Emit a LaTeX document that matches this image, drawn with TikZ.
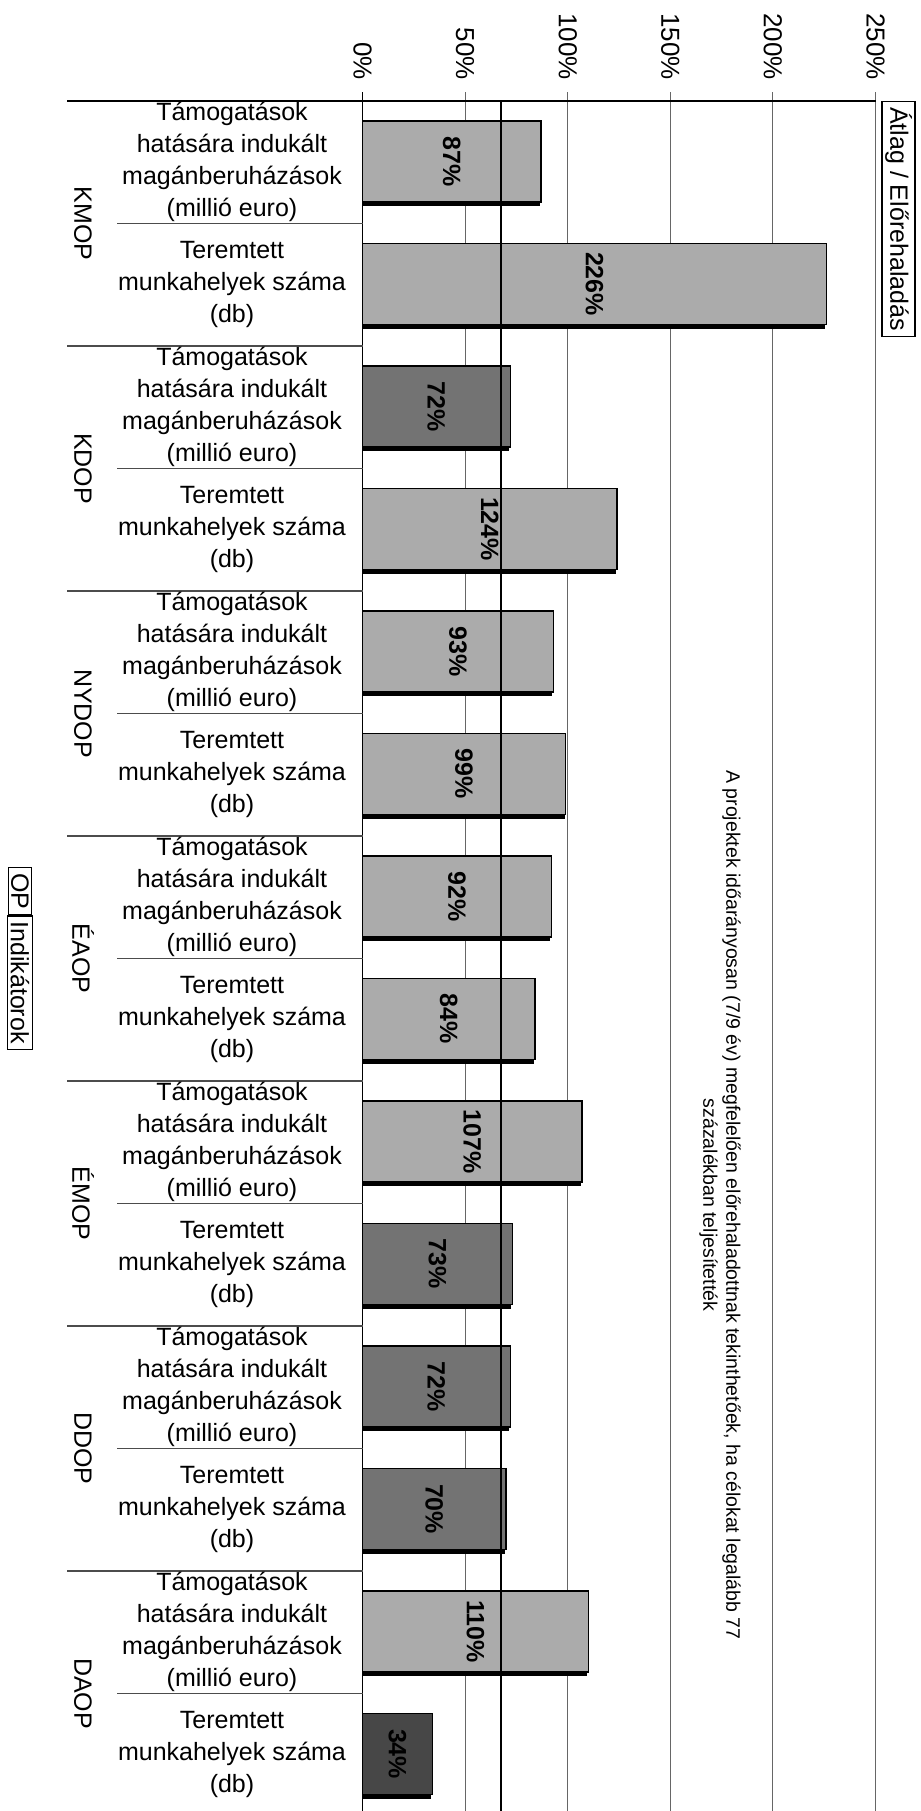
\documentclass[tikz,border=0pt]{standalone}
\usepackage{fontspec}
\setmainfont{Liberation Sans}
\usetikzlibrary{shadows}

\begin{document}
\begin{tikzpicture}[x=0.5pt,y=-0.5pt,
			light bar/.style={draw,line width=0.7pt,fill=black!33,drop shadow={shadow xshift=-0.5pt,shadow yshift=-2pt,fill=black,opacity=1}},
			dark bar/.style={light bar,fill=black!55},
			low bar/.style={light bar,fill=black!72},
			grid line/.style={black!60,line width=0.5pt},
			sep line/.style={black!70,line width=0.6pt},
			axis node/.style={rotate=-90,anchor=east,inner sep=0pt,font=\fontsize{13}{15}\selectfont},
			value node/.style={rotate=-90,inner sep=0pt,font=\fontsize{12.5}{15}\selectfont\bfseries},
			ind node/.style={align=center,inner sep=0pt,font=\fontsize{12.5}{16}\selectfont},
			op node/.style={rotate=-90,inner sep=0pt,font=\fontsize{12.5}{15}\selectfont},
			box node/.style={draw,rotate=-90,line width=0.6pt,inner xsep=2.75pt,inner ysep=1.5pt,font=\fontsize{12.5}{15}\selectfont},
			note node/.style={rotate=-90,align=center,inner sep=0pt,font=\fontsize{9.75}{11.5}\selectfont}
			]

			\def \xo {362.5};
			\def \pct {2.052};

			\useasboundingbox (0,0) rectangle (921,1811);

			\draw[grid line] ({\xo+50*\pct},92) -- ({\xo+50*\pct},1811);
			\draw[grid line] ({\xo+100*\pct},92) -- ({\xo+100*\pct},1811);
			\draw[grid line] ({\xo+150*\pct},92) -- ({\xo+150*\pct},1811);
			\draw[grid line] ({\xo+200*\pct},92) -- ({\xo+200*\pct},1811);
			\draw[grid line] ({\xo+250*\pct},92) -- ({\xo+250*\pct},1811);

			\node[axis node] (t0) at (\xo,80) {0\%};
			\node[axis node] (t50) at ({\xo+50*\pct},80) {50\%};
			\node[axis node] (t100) at ({\xo+100*\pct},80) {100\%};
			\node[axis node] (t150) at ({\xo+150*\pct},80) {150\%};
			\node[axis node] (t200) at ({\xo+200*\pct},80) {200\%};
			\node[axis node] (t250) at ({\xo+250*\pct},80) {250\%};

			% KMOP
			\draw[light bar] (\xo,121) rectangle ({\xo+87*\pct},202);
			\node[value node] (kmop-a-v) at ({\xo+87*\pct/2},161.5) {87\%};
			\draw[light bar] (\xo,243.5) rectangle ({\xo+226*\pct},324.5);
			\node[value node] (kmop-b-v) at ({\xo+226*\pct/2},284) {226\%};
			% KDOP
			\draw[dark bar] (\xo,366) rectangle ({\xo+72*\pct},447);
			\node[value node] (kdop-a-v) at ({\xo+72*\pct/2},406.5) {72\%};
			\draw[light bar] (\xo,488.5) rectangle ({\xo+124*\pct},569.5);
			\node[value node] (kdop-b-v) at ({\xo+124*\pct/2},529) {124\%};
			% NYDOP
			\draw[light bar] (\xo,611) rectangle ({\xo+93*\pct},692);
			\node[value node] (nydop-a-v) at ({\xo+93*\pct/2},651.5) {93\%};
			\draw[light bar] (\xo,733.5) rectangle ({\xo+99*\pct},814.5);
			\node[value node] (nydop-b-v) at ({\xo+99*\pct/2},774) {99\%};
			% ÉAOP
			\draw[light bar] (\xo,856) rectangle ({\xo+92*\pct},937);
			\node[value node] (eaop-a-v) at ({\xo+92*\pct/2},896.5) {92\%};
			\draw[light bar] (\xo,978.5) rectangle ({\xo+84*\pct},1059.5);
			\node[value node] (eaop-b-v) at ({\xo+84*\pct/2},1019) {84\%};
			% ÉMOP
			\draw[light bar] (\xo,1101) rectangle ({\xo+107*\pct},1182);
			\node[value node] (emop-a-v) at ({\xo+107*\pct/2},1141.5) {107\%};
			\draw[dark bar] (\xo,1223.5) rectangle ({\xo+73*\pct},1304.5);
			\node[value node] (emop-b-v) at ({\xo+73*\pct/2},1264) {73\%};
			% DDOP
			\draw[dark bar] (\xo,1346) rectangle ({\xo+72*\pct},1427);
			\node[value node] (ddop-a-v) at ({\xo+72*\pct/2},1386.5) {72\%};
			\draw[dark bar] (\xo,1468.5) rectangle ({\xo+70*\pct},1549.5);
			\node[value node] (ddop-b-v) at ({\xo+70*\pct/2},1509) {70\%};
			% DAOP
			\draw[light bar] (\xo,1591) rectangle ({\xo+110*\pct},1672);
			\node[value node] (daop-a-v) at ({\xo+110*\pct/2},1631.5) {110\%};
			\draw[low bar] (\xo,1713.5) rectangle ({\xo+34*\pct},1794.5);
			\node[value node] (daop-b-v) at ({\xo+34*\pct/2},1754) {34\%};

			\draw[line width=1.3pt] ({\xo+67.5*\pct},101) -- ({\xo+67.5*\pct},1811);
			\draw[line width=0.75pt] (\xo,92) -- (\xo,1811);
			\draw[line width=0.75pt] (67,101) -- ({\xo+250*\pct},101);

			\draw[sep line] (67,346) -- (\xo,346);
			\draw[sep line] (67,591) -- (\xo,591);
			\draw[sep line] (67,836) -- (\xo,836);
			\draw[sep line] (67,1081) -- (\xo,1081);
			\draw[sep line] (67,1326) -- (\xo,1326);
			\draw[sep line] (67,1571) -- (\xo,1571);

			\draw[sep line] (117,223.5) -- (\xo,223.5);
			\draw[sep line] (117,468.5) -- (\xo,468.5);
			\draw[sep line] (117,713.5) -- (\xo,713.5);
			\draw[sep line] (117,958.5) -- (\xo,958.5);
			\draw[sep line] (117,1203.5) -- (\xo,1203.5);
			\draw[sep line] (117,1448.5) -- (\xo,1448.5);
			\draw[sep line] (117,1693.5) -- (\xo,1693.5);

			\node[op node] (kmop) at (83,223.5) {KMOP};
			\node[op node] (kdop) at (83,468.5) {KDOP};
			\node[op node] (nydop) at (83,713.5) {NYDOP};
			\node[op node] (eaop) at (83,958.5) {ÉAOP};
			\node[op node] (emop) at (83,1203.5) {ÉMOP};
			\node[op node] (ddop) at (83,1448.5) {DDOP};
			\node[op node] (daop) at (83,1693.5) {DAOP};

			\node[ind node] (kmop-a) at (232,162.25) {Támogatások\\hatására indukált\\magánberuházások\\(millió euro)};
			\node[ind node] (kmop-b) at (232,284.75) {Teremtett\\munkahelyek száma\\(db)};
			\node[ind node] (kdop-a) at (232,407.25) {Támogatások\\hatására indukált\\magánberuházások\\(millió euro)};
			\node[ind node] (kdop-b) at (232,529.75) {Teremtett\\munkahelyek száma\\(db)};
			\node[ind node] (nydop-a) at (232,652.25) {Támogatások\\hatására indukált\\magánberuházások\\(millió euro)};
			\node[ind node] (nydop-b) at (232,774.75) {Teremtett\\munkahelyek száma\\(db)};
			\node[ind node] (eaop-a) at (232,897.25) {Támogatások\\hatására indukált\\magánberuházások\\(millió euro)};
			\node[ind node] (eaop-b) at (232,1019.75) {Teremtett\\munkahelyek száma\\(db)};
			\node[ind node] (emop-a) at (232,1142.25) {Támogatások\\hatására indukált\\magánberuházások\\(millió euro)};
			\node[ind node] (emop-b) at (232,1264.75) {Teremtett\\munkahelyek száma\\(db)};
			\node[ind node] (ddop-a) at (232,1387.25) {Támogatások\\hatására indukált\\magánberuházások\\(millió euro)};
			\node[ind node] (ddop-b) at (232,1509.75) {Teremtett\\munkahelyek száma\\(db)};
			\node[ind node] (daop-a) at (232,1632.25) {Támogatások\\hatására indukált\\magánberuházások\\(millió euro)};
			\node[ind node] (daop-b) at (232,1754.75) {Teremtett\\munkahelyek száma\\(db)};

			\node[box node] (avg) at (898.5,219) {Átlag / Előrehaladás};
			\node[box node,anchor=west] (op) at (20,867) {OP};
			\node[box node,anchor=west] (ind) at (op.east) {Indikátorok};

			\node[note node] (note) at (720,1205) {A projektek időarányosan (7/9 év) megfelelően előrehaladottnak tekinthetőek, ha célokat legalább 77\\százalékban teljesítették};
		\end{tikzpicture}
\end{document}
